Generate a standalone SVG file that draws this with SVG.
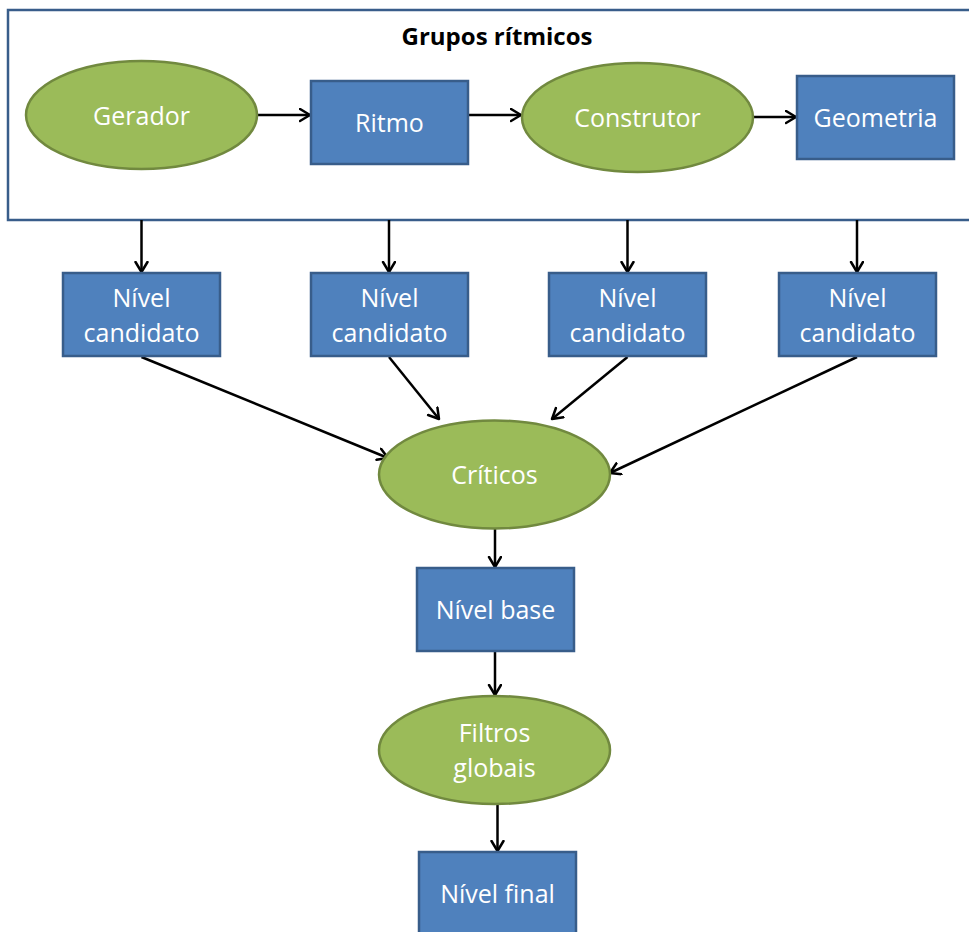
<svg xmlns="http://www.w3.org/2000/svg" width="969" height="932" viewBox="0 0 969 932">
<style>
.box{fill:#4F81BD;stroke:#385D8A;stroke-width:2.5}
.ell{fill:#9BBB59;stroke:#71893F;stroke-width:2.5}
.lbl{font-family:"Open Sans","Liberation Sans",sans-serif;font-size:25px;fill:#FFFFFF;text-anchor:middle}
.title{font-family:"Open Sans","Liberation Sans",sans-serif;font-size:24px;font-weight:bold;fill:#000000;text-anchor:middle}
.con{stroke:#000000;stroke-width:2.5;fill:none;marker-end:url(#arr)}
</style>
<defs>
<marker id="arr" markerUnits="userSpaceOnUse" markerWidth="14" markerHeight="16" refX="11" refY="7" orient="auto" viewBox="0 0 14 16">
<path d="M1,1 L11,7 L1,13" fill="none" stroke="#000000" stroke-width="2.5" stroke-linecap="round" stroke-linejoin="round"/>
</marker>
</defs>
<g id="frame">
<rect x="8" y="10" width="970" height="210" fill="#FFFFFF" stroke="#385D8A" stroke-width="2.5"/>
<text class="title" x="497" y="45">Grupos rítmicos</text>
</g>
<g id="connectors">
<line class="con" x1="257" y1="115" x2="310" y2="115"/>
<line class="con" x1="468" y1="115" x2="521" y2="115"/>
<line class="con" x1="753" y1="117" x2="796" y2="117"/>
<line class="con" x1="141.5" y1="220" x2="141.5" y2="272"/>
<line class="con" x1="389" y1="220" x2="389" y2="272"/>
<line class="con" x1="627.5" y1="220" x2="627.5" y2="272"/>
<line class="con" x1="857" y1="220" x2="857" y2="272"/>
<line class="con" x1="141.5" y1="357" x2="388" y2="458"/>
<line class="con" x1="389" y1="357" x2="439" y2="419"/>
<line class="con" x1="627.5" y1="357" x2="552" y2="419"/>
<line class="con" x1="857" y1="357" x2="610" y2="473"/>
<line class="con" x1="495" y1="528" x2="495" y2="567"/>
<line class="con" x1="495" y1="651" x2="495" y2="695"/>
<line class="con" x1="497.5" y1="804" x2="497.5" y2="851"/>
</g>
<g id="gerador">
<ellipse class="ell" cx="141.5" cy="115" rx="115.5" ry="54"/>
<text class="lbl" x="141.5" y="125">Gerador</text>
</g>
<g id="ritmo">
<rect class="box" x="311" y="81" width="157" height="83"/>
<text class="lbl" x="389.5" y="132">Ritmo</text>
</g>
<g id="construtor">
<ellipse class="ell" cx="637.5" cy="117.5" rx="115.5" ry="54.5"/>
<text class="lbl" x="637.5" y="127">Construtor</text>
</g>
<g id="geometria">
<rect class="box" x="797" y="76" width="157" height="83"/>
<text class="lbl" x="875.5" y="127">Geometria</text>
</g>
<g id="nivel1">
<rect class="box" x="63" y="273" width="157" height="83"/>
<text class="lbl" x="141.5" y="307">Nível</text>
<text class="lbl" x="141.5" y="342">candidato</text>
</g>
<g id="nivel2">
<rect class="box" x="311" y="273" width="157" height="83"/>
<text class="lbl" x="389.5" y="307">Nível</text>
<text class="lbl" x="389.5" y="342">candidato</text>
</g>
<g id="nivel3">
<rect class="box" x="549" y="273" width="157" height="83"/>
<text class="lbl" x="627.5" y="307">Nível</text>
<text class="lbl" x="627.5" y="342">candidato</text>
</g>
<g id="nivel4">
<rect class="box" x="779" y="273" width="157" height="83"/>
<text class="lbl" x="857.5" y="307">Nível</text>
<text class="lbl" x="857.5" y="342">candidato</text>
</g>
<g id="criticos">
<ellipse class="ell" cx="494.5" cy="474.5" rx="115.5" ry="54"/>
<text class="lbl" x="494.5" y="484">Críticos</text>
</g>
<g id="nivelbase">
<rect class="box" x="417" y="568" width="157" height="83"/>
<text class="lbl" x="495.5" y="619">Nível base</text>
</g>
<g id="filtros">
<ellipse class="ell" cx="494.5" cy="750" rx="115.5" ry="54"/>
<text class="lbl" x="494.5" y="742">Filtros</text>
<text class="lbl" x="494.5" y="777">globais</text>
</g>
<g id="nivelfinal">
<rect class="box" x="419" y="852" width="157" height="83"/>
<text class="lbl" x="497.5" y="903">Nível final</text>
</g>
</svg>
